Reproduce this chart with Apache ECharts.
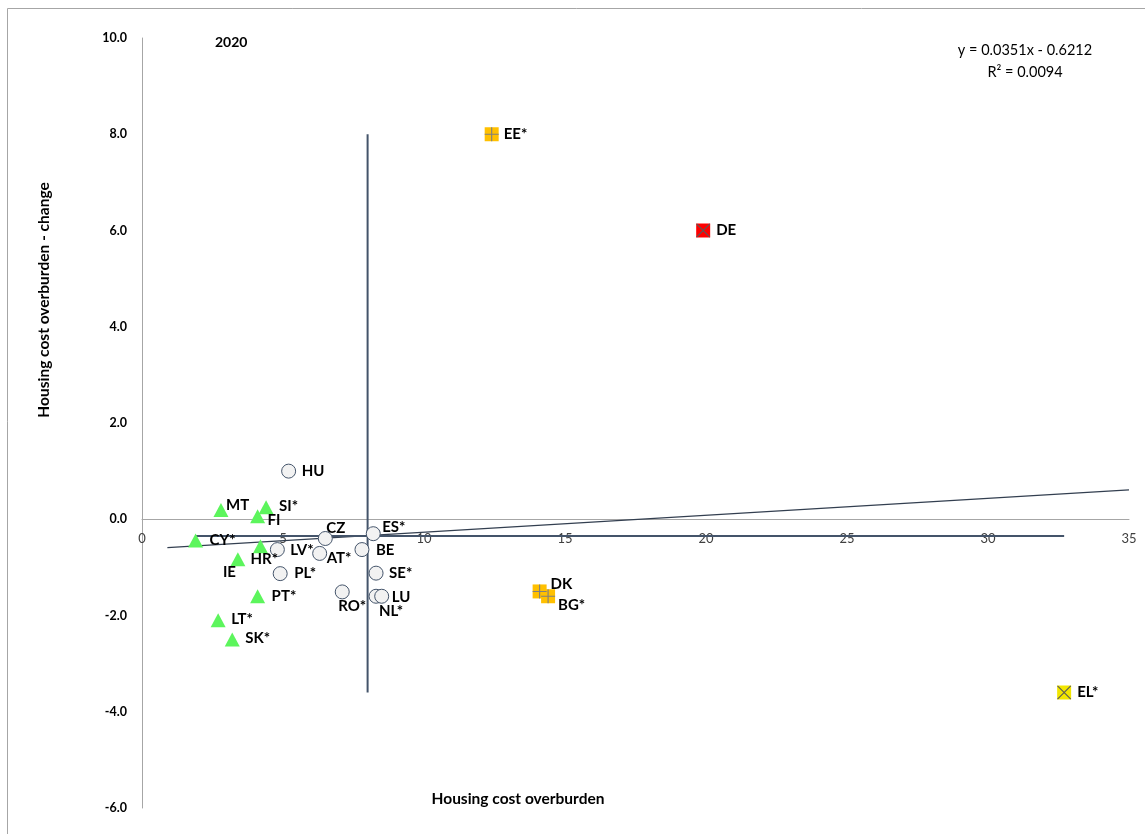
<!DOCTYPE html>
<html>
<head>
<meta charset="utf-8">
<title>Housing cost overburden 2020</title>
<script src="https://cdn.jsdelivr.net/npm/echarts@6/dist/echarts.min.js"></script>
<style>
  html, body { margin: 0; padding: 0; background: #fff; }
  #chart { width: 1145px; height: 834px; }
</style>
</head>
<body>
<div id="chart"></div>
<script>
// values
// x = housing cost overburden, y = change
const circleNames = ['HU', 'CZ', 'ES*', 'LV*', 'AT*', 'BE', 'PL*', 'SE*', 'RO*', 'NL*', 'LU']
const circleX = [5.2, 6.5, 8.2, 4.8, 6.3, 7.8, 4.9, 8.3, 7.1, 8.3, 8.5]
const circleY = [1.0, -0.4, -0.3, -0.63, -0.71, -0.63, -1.13, -1.12, -1.51, -1.6, -1.6]

const triangleNames = ['MT', 'SI*', 'FI', 'CY*', 'HR*', 'IE', 'PT*', 'LT*', 'SK*']
const triangleX = [2.8, 4.4, 4.1, 1.9, 4.2, 3.4, 4.1, 2.7, 3.2]
const triangleY = [0.19, 0.25, 0.06, -0.44, -0.56, -0.83, -1.6, -2.1, -2.5]

const plusNames = ['EE*', 'DK', 'BG*']
const plusX = [12.4, 14.1, 14.4]
const plusY = [8.0, -1.5, -1.6]

const crossNames = ['DE', 'EL*']
const crossX = [19.9, 32.7]
const crossY = [6.0, -3.6]

// average lines (span the data range) and trend line ends
const meanX = 8.0
const meanY = -0.35
const meanYRange = [-3.6, 8.0]
const meanXRange = [1.9, 32.7]
const trendX = [0.9, 35]
const trendY = [-0.59, 0.61]

const xTicks = [0, 35, 5]   // min, max, step
const yTicks = [-6, 10, 2]

// label placement: start of text relative to the marker centre
const labelOffsets = {
    'EE*': [12, 0], 'DE': [13, 0], 'DK': [11, -7], 'BG*': [10, 9], 'EL*': [13, 0],
    'HU': [13, 0], 'CZ': [1, -10], 'ES*': [9, -7], 'LV*': [13, 1], 'AT*': [7, 5],
    'BE': [14, 1], 'PL*': [14, 0], 'SE*': [13, 0], 'RO*': [-4, 14], 'NL*': [3, 15],
    'LU': [10, 1], 'MT': [5, -5], 'SI*': [13, -1], 'FI': [10, 4], 'CY*': [14, 0],
    'HR*': [-10, 13], 'IE': [-15, 13], 'PT*': [14, 0], 'LT*': [13, -1], 'SK*': [13, -1]
}

const font = 'Lato, "Open Sans", sans-serif'

function points(names, xs, ys, withLabel) {
    return names.map((n, i) => ({
        name: n,
        value: [xs[i], ys[i]],
        label: withLabel ? { offset: labelOffsets[n] } : { show: false }
    }))
}

const pointLabel = {
    show: true,
    position: 'inside',
    align: 'left',
    verticalAlign: 'middle',
    formatter: '{b}',
    color: '#000',
    fontWeight: 'bold',
    fontSize: 15,
    fontFamily: font
}

const plusPath = 'path://M0,9.2H20V10.8H0Z M9.2,0H10.8V20H9.2Z'
const crossPath = 'path://M0,1.1L1.1,0L20,18.9L18.9,20Z M18.9,0L20,1.1L1.1,20L0,18.9Z'

let mychart = echarts.init(document.getElementById('chart'))
mychart.setOption({
    animation: false,
    grid: { left: 142, right: 16, top: 38, bottom: 26 },
    xAxis: {
        type: 'value',
        min: xTicks[0],
        max: xTicks[1],
        interval: xTicks[2],
        // the axis sits on y = 0 (289px above the bottom of the plot)
        offset: -289,
        axisLine: { show: true, onZero: false, lineStyle: { color: '#a6a6a6', width: 1 } },
        axisTick: { show: false },
        splitLine: { show: false },
        axisLabel: { color: '#404040', fontSize: 13, fontFamily: font, margin: 13 }
    },
    yAxis: {
        type: 'value',
        min: yTicks[0],
        max: yTicks[1],
        interval: yTicks[2],
        axisLine: { show: true, onZero: false, lineStyle: { color: '#a6a6a6', width: 1 } },
        axisTick: { show: false },
        splitLine: { show: false },
        axisLabel: {
            color: '#000', fontWeight: 'bold', fontSize: 12.5, fontFamily: font, margin: 15,
            formatter: v => v.toFixed(1)
        }
    },
    graphic: [
        // outer chart frame
        { type: 'rect', shape: { x: 7.5, y: 8.5, width: 1300, height: 1000 },
          style: { fill: 'none', stroke: '#a6a6a6', lineWidth: 1 }, silent: true },
        { type: 'text', x: 215, y: 42,
          style: { text: '2020', fill: '#000', font: 'bold 14px ' + font, verticalAlign: 'middle' } },
        { type: 'text', x: 1025, y: 50,
          style: { text: 'y = 0.0351x - 0.6212', fill: '#000', font: '14.5px ' + font,
                   align: 'center', verticalAlign: 'middle' } },
        { type: 'text', x: 1025, y: 72,
          style: { text: 'R² = 0.0094', fill: '#000', font: '14.5px ' + font,
                   align: 'center', verticalAlign: 'middle' } },
        { type: 'text', x: 518, y: 799,
          style: { text: 'Housing cost overburden', fill: '#000', font: 'bold 15.5px ' + font,
                   align: 'center', verticalAlign: 'middle' } },
        { type: 'text', x: 44, y: 300, rotation: Math.PI / 2,
          style: { text: 'Housing cost overburden - change', fill: '#000', font: 'bold 15.5px ' + font,
                   align: 'center', verticalAlign: 'middle' } }
    ],
    series: [
        {
            type: 'line',
            data: [[trendX[0], trendY[0]], [trendX[1], trendY[1]]],
            symbol: 'none',
            lineStyle: { color: '#333f50', width: 1.2 },
            z: 1
        },
        {
            type: 'line',
            data: [[meanX, meanYRange[0]], [meanX, meanYRange[1]]],
            symbol: 'none',
            lineStyle: { color: '#44546a', width: 2 },
            z: 2
        },
        {
            type: 'line',
            data: [[meanXRange[0], meanY], [meanXRange[1], meanY]],
            symbol: 'none',
            lineStyle: { color: '#44546a', width: 2 },
            z: 2
        },
        {
            type: 'scatter',
            data: points(circleNames, circleX, circleY, true),
            symbol: 'circle',
            symbolSize: 14,
            itemStyle: { color: '#f2f2f2', borderColor: '#44546a', borderWidth: 1, opacity: 1 },
            label: pointLabel,
            z: 5
        },
        {
            type: 'scatter',
            data: points(triangleNames, triangleX, triangleY, true),
            symbol: 'triangle',
            symbolSize: [15, 14],
            itemStyle: { color: '#5cf55c', opacity: 1 },
            label: pointLabel,
            z: 5
        },
        {
            type: 'scatter',
            data: points(plusNames, plusX, plusY, true),
            symbol: 'rect',
            symbolSize: 14,
            itemStyle: { color: '#ffc000', opacity: 1 },
            label: pointLabel,
            z: 5
        },
        {
            type: 'scatter',
            data: points(plusNames, plusX, plusY, false),
            symbol: plusPath,
            symbolSize: 14,
            itemStyle: { color: '#7f7f7f', opacity: 1 },
            z: 6
        },
        {
            type: 'scatter',
            data: points(crossNames, crossX, crossY, true),
            symbol: 'rect',
            symbolSize: 14,
            itemStyle: {
                opacity: 1,
                // DE red, EL yellow
                color: function (p) { return ['#ff0000', '#f2e600'][p.dataIndex] }
            },
            label: pointLabel,
            z: 5
        },
        {
            type: 'scatter',
            data: points(crossNames, crossX, crossY, false),
            symbol: crossPath,
            symbolSize: 14,
            itemStyle: { color: '#595959', opacity: 1 },
            z: 6
        }
    ]
})
</script>
</body>
</html>
